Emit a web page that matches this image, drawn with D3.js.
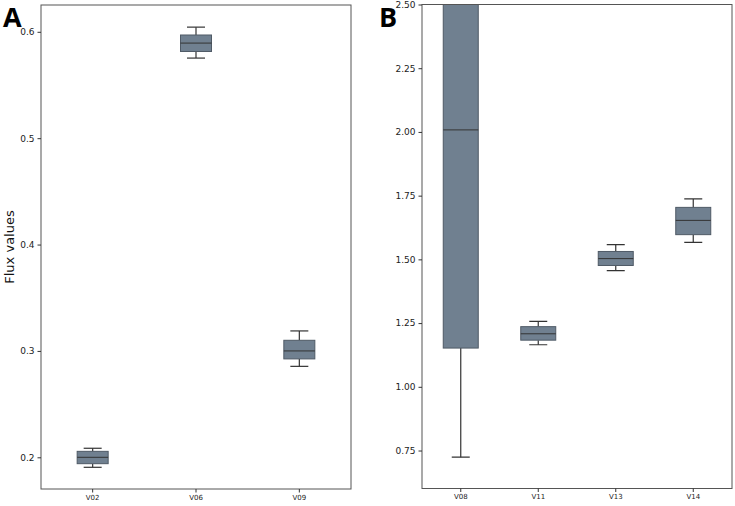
<!DOCTYPE html>
<html><head><meta charset="utf-8">
<script src="https://cdn.jsdelivr.net/npm/d3@7"></script>
<style>body{margin:0;background:#fff}svg{display:block}</style>
</head><body>
<svg id="c" width="735" height="506"></svg>
<script>
// Panel A data
const catsA = ["V02", "V06", "V09"];
const whiskLowA = [0.1906, 0.5753, 0.2855];
const q1A = [0.1940, 0.5815, 0.2925];
const medA = [0.2000, 0.5894, 0.3000];
const q3A = [0.2056, 0.5970, 0.3100];
const whiskHighA = [0.2085, 0.6044, 0.3188];
const ticksA = [0.2, 0.3, 0.4, 0.5, 0.6];
// Panel B data
const catsB = ["V08", "V11", "V13", "V14"];
const whiskLowB = [0.724, 1.165, 1.456, 1.567];
const q1B = [1.152, 1.183, 1.476, 1.597];
const medB = [2.008, 1.208, 1.503, 1.653];
const q3B = [2.90, 1.236, 1.531, 1.704];
const whiskHighB = [3.30, 1.257, 1.558, 1.737];
const ticksB = [0.75, 1.00, 1.25, 1.50, 1.75, 2.00, 2.25, 2.50];

const svg = d3.select("#c");
const fill = "#708090", edge = "#4f5a66", dark = "#333";

function panel(o) {
  const g = svg.append("g");
  const x = d3.scaleBand().domain(o.cats).range([o.x0, o.x1]).padding(0);
  const y = d3.scaleLinear().domain(o.dom).range([o.y1, o.y0]);
  const clipId = "clip" + o.id;
  svg.append("clipPath").attr("id", clipId).append("rect")
    .attr("x", o.x0).attr("y", o.y0).attr("width", o.x1 - o.x0).attr("height", o.y1 - o.y0);
  const data = o.cats.map((c, i) => ({c, lo: o.lo[i], q1: o.q1[i], med: o.med[i], q3: o.q3[i], hi: o.hi[i]}));
  const pg = g.append("g").attr("clip-path", `url(#${clipId})`);
  const bw = o.bw, cw = 18;
  const b = pg.selectAll("g.box").data(data).join("g").attr("class", "box");
  const cx = d => x(d.c) + x.bandwidth() / 2;
  b.append("line").attr("x1", cx).attr("x2", cx).attr("y1", d => y(d.hi)).attr("y2", d => y(d.q3)).attr("stroke", dark).attr("stroke-width", 1.2);
  b.append("line").attr("x1", cx).attr("x2", cx).attr("y1", d => y(d.q1)).attr("y2", d => y(d.lo)).attr("stroke", dark).attr("stroke-width", 1.2);
  b.append("line").attr("x1", d => cx(d) - cw / 2).attr("x2", d => cx(d) + cw / 2).attr("y1", d => y(d.hi)).attr("y2", d => y(d.hi)).attr("stroke", dark).attr("stroke-width", 1.2);
  b.append("line").attr("x1", d => cx(d) - cw / 2).attr("x2", d => cx(d) + cw / 2).attr("y1", d => y(d.lo)).attr("y2", d => y(d.lo)).attr("stroke", dark).attr("stroke-width", 1.2);
  b.append("rect").attr("x", d => cx(d) - bw / 2).attr("width", bw)
    .attr("y", d => y(d.q3)).attr("height", d => y(d.q1) - y(d.q3))
    .attr("fill", fill).attr("stroke", edge).attr("stroke-width", 1);
  b.append("line").attr("x1", d => cx(d) - bw / 2).attr("x2", d => cx(d) + bw / 2).attr("y1", d => y(d.med)).attr("y2", d => y(d.med)).attr("stroke", dark).attr("stroke-width", 1);

  // frame
  g.append("rect").attr("x", o.x0).attr("y", o.y0).attr("width", o.x1 - o.x0).attr("height", o.y1 - o.y0)
    .attr("fill", "none").attr("stroke", "#555").attr("stroke-width", 1);
  // axes
  const ya = g.append("g").attr("transform", `translate(${o.x0},0)`)
    .call(d3.axisLeft(y).tickValues(o.ticks).tickFormat(o.fmt).tickSize(3.5).tickPadding(3));
  ya.select(".domain").remove();
  ya.selectAll("text").attr("font-family", "DejaVu Sans").attr("font-size", 9).attr("fill", "#222");
  ya.selectAll("line").attr("stroke", "#333");
  const xa = g.append("g").attr("transform", `translate(0,${o.y1})`)
    .call(d3.axisBottom(x).tickSize(3.5).tickPadding(2.5));
  xa.select(".domain").remove();
  xa.selectAll("text").attr("font-family", "DejaVu Sans").attr("font-size", 7).attr("fill", "#222");
  xa.selectAll("line").attr("stroke", "#333");
  svg.append("text").attr("x", o.lx).attr("y", o.ly).text(o.letter)
    .attr("font-family", "Open Sans").attr("font-weight", "bold").attr("font-size", 27).attr("fill", "#000");
}

panel({id: "A", cats: catsA, lo: whiskLowA, q1: q1A, med: medA, q3: q3A, hi: whiskHighA,
  dom: [0.1702, 0.6252], ticks: ticksA, fmt: d3.format(".1f"),
  x0: 41, x1: 351, y0: 5, y1: 489, bw: 31, letter: "A", lx: 3, ly: 27});
panel({id: "B", cats: catsB, lo: whiskLowB, q1: q1B, med: medB, q3: q3B, hi: whiskHighB,
  dom: [0.601, 2.50], ticks: ticksB, fmt: d3.format(".2f"),
  x0: 422, x1: 732, y0: 4.5, y1: 488.5, bw: 35, letter: "B", lx: 379, ly: 27});

svg.append("text").attr("transform", "translate(14,247) rotate(-90)").attr("text-anchor", "middle")
  .attr("font-family", "DejaVu Sans").attr("font-size", 13).attr("fill", "#111").text("Flux values");
</script>
</body></html>
